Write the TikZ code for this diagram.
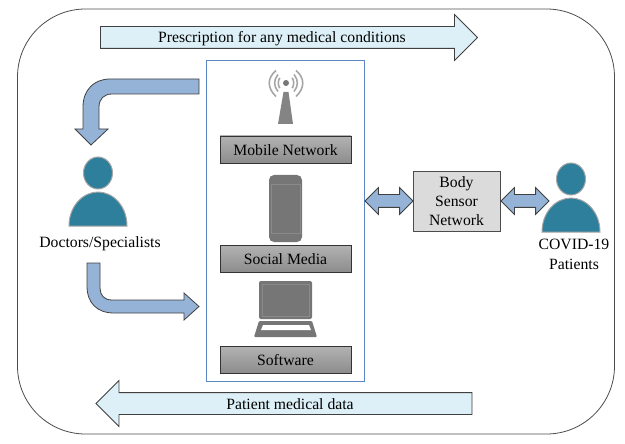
\documentclass[tikz,border=0pt]{standalone}
\usepackage{fontspec}
\setmainfont{Liberation Serif}
\usetikzlibrary{shapes.arrows}

\definecolor{palearrow}{HTML}{DEF0F7}
\definecolor{bluearrow}{HTML}{95B3D7}
\definecolor{framecol}{HTML}{5B87C4}
\definecolor{personcol}{HTML}{2E7F9B}
\definecolor{iconcol}{HTML}{767676}

\tikzset{
  person/.pic={
    \draw[fill=personcol,draw=gray!70,line width=1pt] (-29,0) -- (29,0) .. controls (29,-20) and (15,-34) .. (0,-34) .. controls (-15,-34) and (-29,-20) .. (-29,0) -- cycle;
    \draw[fill=personcol,draw=gray!70,line width=1pt] (0,-53) ellipse [x radius=14.5pt,y radius=16pt];
  }
}

\begin{document}
\begin{tikzpicture}[x=1pt,y=-1pt,font=\fontsize{15.7}{18}\selectfont]

      \useasboundingbox (0,0) rectangle (625,444);

      % Outer frame
      \node[draw=black!70,line width=0.8pt,rounded corners=68pt,minimum width=597pt,minimum height=425pt,inner sep=0pt] (outer) at (316,221.5) {};

      % Long arrows
      \begin{scope}[every node/.style={single arrow,draw=black!75,line width=0.8pt,fill=palearrow,inner xsep=0pt,inner ysep=10.5pt,minimum width=45pt,single arrow head extend=12pt,single arrow tip angle=90}]
        \node[minimum height=377pt] (prescarrow) at (283.5,37.5) {};
        \node[minimum height=376pt,shape border rotate=180] (dataarrow) at (289.5,403.5) {};
      \end{scope}
      \node (presc) at (282,39) {Prescription for any medical conditions};
      \node (data) at (290,404.5) {Patient medical data};

      % Centre column
      \node[draw=framecol,line width=1pt,minimum width=158pt,minimum height=320pt,inner sep=0pt] (column) at (285,221) {};
      \begin{scope}[every node/.style={draw=black!80,line width=0.8pt,top color=gray!60,middle color=gray!35,bottom color=gray!90,minimum width=131pt,minimum height=27pt,inner sep=0pt,text height=14pt,text depth=2pt}]
        \node (mobile) at (285.5,149.5) {Mobile Network};
        \node (social) at (285.5,258.5) {Social Media};
        \node (soft) at (285.5,359.5) {Software};
      \end{scope}

      % Antenna
      \fill[iconcol!90] (283.5,92) -- (288.5,92) -- (293,124) -- (278,124) -- cycle;
      \fill[iconcol] (286,83) circle (3pt);
      \begin{scope}[draw=gray!70,line width=1.6pt]
        \draw (279.8,77.8) .. controls (277.8,81) and (277.8,85) .. (279.8,88.2);
        \draw (292.2,77.8) .. controls (294.2,81) and (294.2,85) .. (292.2,88.2);
        \draw (278,74.5) .. controls (273.5,80) and (273.5,86) .. (278,91.5);
        \draw (294,74.5) .. controls (298.5,80) and (298.5,86) .. (294,91.5);
        \draw (276,70.5) .. controls (267,78) and (267,88) .. (276,96.5);
        \draw (296,70.5) .. controls (305,78) and (305,88) .. (296,96.5);
      \end{scope}

      % Phone
      \fill[iconcol,rounded corners=5pt] (269,175) rectangle (302,242);
      \draw[iconcol!85!white,line width=0.5pt] (271,184) rectangle (300,233);

      % Laptop
      \fill[iconcol,rounded corners=2pt] (259,281) rectangle (312,319);
      \draw[iconcol!85!white,line width=0.5pt] (262,284) rectangle (309,316);
      \fill[iconcol,rounded corners=1pt] (259,321) -- (312,321) -- (317,337) -- (254,337) -- cycle;
      \fill[white] (263,325) -- (309,325) -- (311,330) -- (261,330) -- cycle;

      % Body sensor network
      \node[draw=black!70,line width=1pt,fill=gray!28,minimum width=87pt,minimum height=59pt,inner sep=0pt,align=center,font=\fontsize{15.7}{19}\selectfont] (bsn) at (456.5,201.5) {Body\\Sensor\\Network};

      % Double arrows
      \begin{scope}[every node/.style={double arrow,draw=black!75,line width=0.8pt,fill=bluearrow,inner xsep=0pt,inner ysep=6pt,minimum width=26pt,double arrow head extend=7pt,double arrow tip angle=90,minimum height=48pt}]
        \node (leftlink) at (389,201) {};
        \node (rightlink) at (525,201) {};
      \end{scope}

      % Bent arrows
      \begin{scope}[every path/.style={draw=black!75,line width=0.8pt,fill=bluearrow}]
        \path (199,79) -- (199,94) -- (112,94) .. controls (104,94) and (99,99) .. (99,107) -- (99,129) -- (108,129) -- (91,145) -- (75,129) -- (83,129) -- (83,107) .. controls (83,90) and (94,79) .. (110,79) -- cycle;
        \path (87,263) -- (100,263) -- (100,288) .. controls (100,295) and (104,300) .. (112,300) -- (184,300) -- (184,293) -- (199,306.5) -- (184,320) -- (184,313) -- (114,313) .. controls (97,313) and (87,303) .. (87,286) -- cycle;
      \end{scope}

      % People
      \pic at (98,226) {person};
      \pic at (571,232) {person};
      \node (doctors) at (100,244) {Doctors/Specialists};
      \node[align=center,font=\fontsize{15.7}{20}\selectfont] (patients) at (574,254) {COVID-19\\Patients};

    \end{tikzpicture}
\end{document}
